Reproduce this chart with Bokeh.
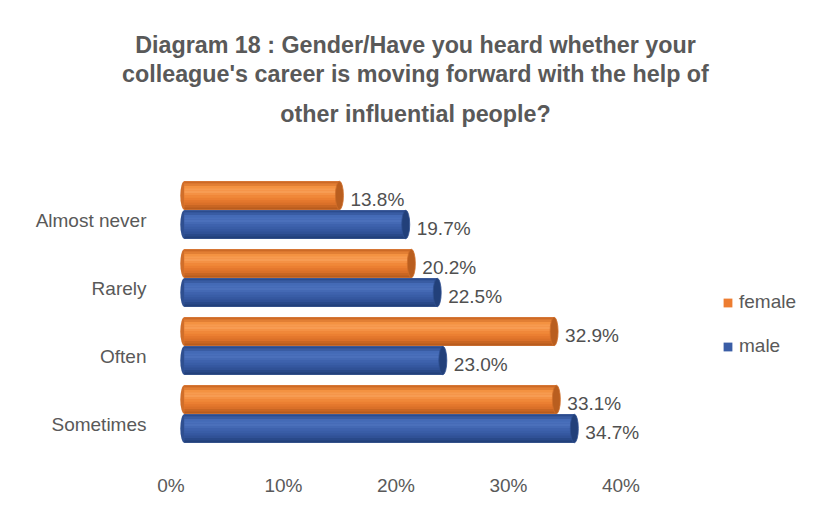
from bokeh.plotting import figure
from bokeh.models import (Range1d, LinearAxis, FixedTicker, ColumnDataSource,
                          Legend, LegendItem, Title)
from bokeh.transform import dodge
from bokeh.core.properties import value
from bokeh.embed import file_html
from bokeh.resources import INLINE

# ---------------- data ----------------
categories = ["Almost never", "Rarely", "Often", "Sometimes"]
female = [13.8, 20.2, 32.9, 33.1]
male = [19.7, 22.5, 23.0, 34.7]
series_names = ["female", "male"]
x_ticks = [0, 10, 20, 30, 40]
title_lines = ["Diagram 18 : Gender/Have you heard whether your",
               "colleague's career is moving forward with the help of",
               "other influential people?"]

# ---------------- layout (page pixels) ----------------
W, H = 814, 516
TITLE_CX = 415                    # horizontal centre of the title
TITLE_PX = 23.3                   # title font size
TITLE_STANDOFFS = [27, -2, 3]     # nearest-to-frame line first
F_LEFT, F_RIGHT, F_TOP, F_BOTTOM = 168, 814, 140, 460
FW, FH = F_RIGHT - F_LEFT, F_BOTTOM - F_TOP
PX_X = 11.24            # px per percent
PX_Y = 68.0             # px per category
BAR_ZERO = 183.8        # bar baseline (front plane)
WALL_ZERO = 170.4       # axis 0 on back wall
CAT0_BAR = 209.5        # first category bar-pair centre
CAT0_WALL = 219.8       # first category label centre

TEXT = "#595959"
FONT = "Liberation Sans"

# Arial/Liberation Sans Bold advance widths (1/1000 em) for centring title lines
_BW = {" ": 278, "'": 238, "/": 278, ":": 333, "?": 611, "D": 722, "G": 778, "H": 722,
       "a": 556, "b": 611, "c": 556, "d": 611, "e": 556, "f": 333, "g": 611, "h": 611,
       "i": 278, "j": 278, "k": 556, "l": 278, "m": 889, "n": 611, "o": 611, "p": 611,
       "q": 611, "r": 389, "s": 556, "t": 333, "u": 611, "v": 556, "w": 778, "x": 556,
       "y": 556, "z": 500}


def text_width(s, size):
    return sum(_BW.get(ch, 556) for ch in s) * size / 1000.0


x_range = Range1d((F_LEFT - BAR_ZERO) / PX_X, (F_RIGHT - BAR_ZERO) / PX_X)
y_range = Range1d((F_BOTTOM - CAT0_BAR) / PX_Y, (F_TOP - CAT0_BAR) / PX_Y)

p = figure(width=W, height=H, x_range=x_range, y_range=y_range,
           output_backend="svg", toolbar_location=None,
           x_axis_location=None, y_axis_location=None,
           min_border_left=F_LEFT, min_border_right=W - F_RIGHT,
           min_border_top=F_TOP, min_border_bottom=H - F_BOTTOM)
p.title = None
p.outline_line_color = None
p.xgrid.visible = False
p.ygrid.visible = False
p.background_fill_color = "white"
p.border_fill_color = "white"

p.extra_x_ranges = {"wall": Range1d((F_LEFT - WALL_ZERO) / 11.25, (F_RIGHT - WALL_ZERO) / 11.25)}
p.extra_y_ranges = {"wall": Range1d((F_BOTTOM - CAT0_WALL) / PX_Y, (F_TOP - CAT0_WALL) / PX_Y)}

src = ColumnDataSource(dict(
    idx=list(range(len(categories))),
    zero=[0] * len(categories),
    female=female,
    male=male,
    flab=[f"{v:.1f}%" for v in female],
    mlab=[f"{v:.1f}%" for v in male],
))

BAR_H = 28.5 / PX_Y
OFF = 14.5 / PX_Y
N_STRIPES = 12


def hex2rgb(h):
    h = h.lstrip("#")
    return [int(h[i:i + 2], 16) for i in (0, 2, 4)]


def grad(stops, n):
    out = []
    for k in range(n):
        t = k / (n - 1) * (len(stops) - 1)
        i = min(int(t), len(stops) - 2)
        f = t - i
        a, b = hex2rgb(stops[i]), hex2rgb(stops[i + 1])
        c = [round(a[j] + (b[j] - a[j]) * f) for j in range(3)]
        out.append("#%02x%02x%02x" % tuple(c))
    return out


styles = {
    "female": dict(base="#ED7D31", cap="#B95E1F", rim="#D06E2A",
                   stops=["#CC6A26", "#F4913F", "#F8A058", "#F28C3C", "#EA7C30", "#D86F28", "#B85C1E"]),
    "male": dict(base="#3A5DA6", cap="#22407A", rim="#2F4F90",
                 stops=["#2C4C8E", "#4369B5", "#4D73BE", "#4065B0", "#385BA4", "#2F5095", "#22407A"]),
}

legend_items = []
for name, off in zip(series_names, (-OFF, OFF)):
    st = styles[name]
    yfield = dodge("idx", off, range=p.y_range)
    p.ellipse(x="zero", y=yfield, width=8, width_units="screen", height=BAR_H,
              fill_color=st["rim"], line_color=None, source=src)
    body = p.hbar(y=yfield, left="zero", right=name, height=BAR_H,
                  fill_color=st["base"], line_color=None, source=src)
    cols = grad(st["stops"], N_STRIPES)
    sh = BAR_H / N_STRIPES
    for k, c in enumerate(cols):
        p.hbar(y=dodge("idx", off - BAR_H / 2 + (k + 0.5) * sh, range=p.y_range),
               left="zero", right=name, height=sh * 1.05,
               fill_color=c, line_color=None, source=src)
    p.ellipse(x=name, y=yfield, width=8, width_units="screen", height=BAR_H,
              fill_color=st["cap"], line_color=st["rim"], line_width=0.8, source=src)
    p.text(x=name, y=yfield, text="flab" if name == "female" else "mlab",
           x_offset=11, y_offset=4, text_align="left", text_baseline="middle",
           text_font=value(FONT), text_font_size="19px", text_color="#505050", source=src)
    legend_items.append(LegendItem(label=name, renderers=[body]))

xaxis = LinearAxis(x_range_name="wall", ticker=FixedTicker(ticks=x_ticks),
                   major_label_overrides={t: f"{t}%" for t in x_ticks})
yaxis = LinearAxis(y_range_name="wall", ticker=FixedTicker(ticks=list(range(len(categories)))),
                   major_label_overrides={i: c for i, c in enumerate(categories)})
for ax, standoff in ((xaxis, 14), (yaxis, 22)):
    ax.axis_line_color = None
    ax.major_tick_line_color = None
    ax.minor_tick_line_color = None
    ax.major_tick_out = 0
    ax.major_tick_in = 0
    ax.major_label_standoff = standoff
    ax.major_label_text_font = FONT
    ax.major_label_text_font_size = "19px"
    ax.major_label_text_color = TEXT
p.add_layout(xaxis, "below")
p.add_layout(yaxis, "left")

# title: one Title per line (nearest-to-frame first), each centred on TITLE_CX
for line, so in zip(reversed(title_lines), TITLE_STANDOFFS):
    off = TITLE_CX - text_width(line, TITLE_PX) / 2 - F_LEFT
    p.add_layout(Title(text=line, align="left", offset=off, standoff=so,
                       text_font=FONT, text_font_size=f"{TITLE_PX}px", text_font_style="bold",
                       text_color=TEXT), "above")

legend = Legend(items=legend_items, location=(722 - F_LEFT, F_BOTTOM - 357), orientation="vertical",
                glyph_width=11, glyph_height=11, label_height=20, label_standoff=6,
                spacing=22, padding=0, margin=0, border_line_color=None,
                background_fill_alpha=0, label_text_font=FONT,
                label_text_font_size="19px", label_text_color=TEXT)
p.add_layout(legend)

open("out.html", "w").write(file_html(p, INLINE))
